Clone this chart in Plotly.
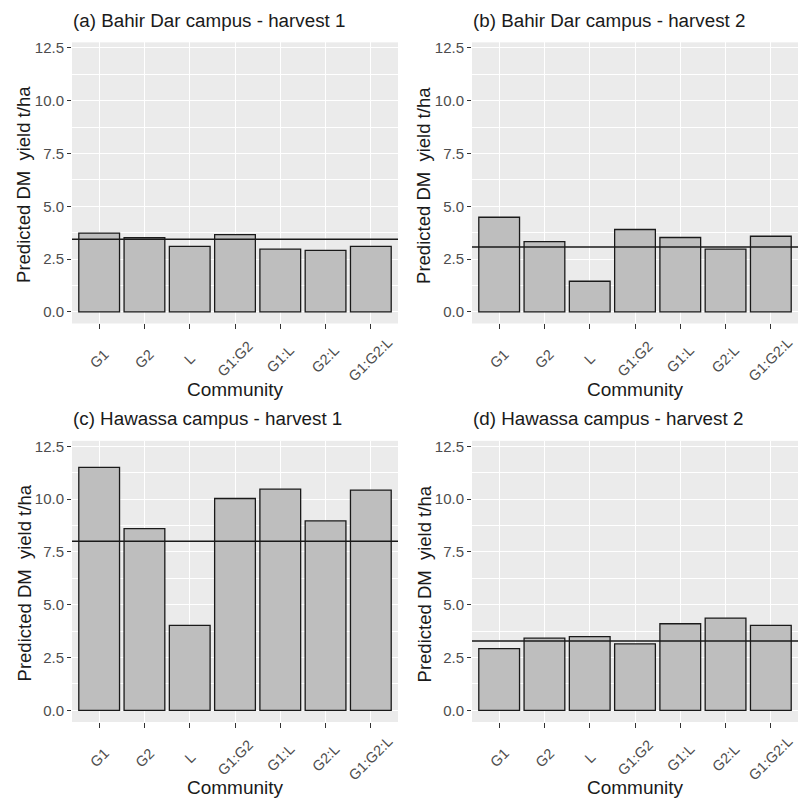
import plotly.graph_objects as go

categories = ["G1", "G2", "L", "G1:G2", "G1:L", "G2:L", "G1:G2:L"]
titles = ["(a) Bahir Dar campus - harvest 1", "(b) Bahir Dar campus - harvest 2",
          "(c) Hawassa campus - harvest 1", "(d) Hawassa campus - harvest 2"]
yield_a = [3.73, 3.51, 3.10, 3.66, 2.97, 2.91, 3.10]
yield_b = [4.48, 3.33, 1.45, 3.90, 3.52, 2.97, 3.58]
yield_c = [11.50, 8.60, 4.02, 10.03, 10.47, 8.97, 10.43]
yield_d = [2.92, 3.42, 3.49, 3.15, 4.10, 4.37, 4.02]
mean_lines = [3.44, 3.07, 8.01, 3.28]
y_ticks = [0, 2.5, 5.0, 7.5, 10.0, 12.5]
y_ticklabels = ["0.0", "2.5", "5.0", "7.5", "10.0", "12.5"]

series = [yield_a, yield_b, yield_c, yield_d]

W, H = 801, 800
FONT = "Liberation Sans, Arial, sans-serif"

# panel geometry in pixels: (left, right, top, bottom)
panels = [
    (72, 398, 39.5, 321.7),
    (472, 798, 39.5, 321.7),
    (72, 398, 439.5, 721.7),
    (472, 798, 439.5, 721.7),
]

fig = go.Figure()
layout = dict(
    width=W, height=H,
    margin=dict(l=0, r=0, t=0, b=0),
    paper_bgcolor="white",
    plot_bgcolor="#EBEBEB",
    showlegend=False,
    font=dict(family=FONT),
)
annotations = []
shapes = []

for i, (vals, (l, r, t, b)) in enumerate(zip(series, panels)):
    n = i + 1
    xa = "x" if n == 1 else f"x{n}"
    ya = "y" if n == 1 else f"y{n}"
    xkey = "xaxis" if n == 1 else f"xaxis{n}"
    ykey = "yaxis" if n == 1 else f"yaxis{n}"
    xpos = list(range(1, len(categories) + 1))
    fig.add_trace(go.Bar(
        x=xpos, y=vals, width=0.9,
        marker=dict(color="#BEBEBE", line=dict(color="#1A1A1A", width=1.3)),
        xaxis=xa, yaxis=ya, hoverinfo="skip",
    ))
    layout[xkey] = dict(
        domain=[l / W, r / W], anchor=ya,
        range=[0.4, 7.6], tickmode="array", tickvals=xpos, ticktext=[""] * len(xpos),
        showgrid=True, gridcolor="white", gridwidth=1.1,
        ticks="outside", ticklen=5, tickcolor="#333333", tickwidth=1,
        zeroline=False, showline=False,
    )
    layout[ykey] = dict(
        domain=[1 - b / H, 1 - t / H], anchor=xa,
        range=[-0.55, 12.76], tickmode="array", tickvals=y_ticks, ticktext=y_ticklabels,
        showgrid=True, gridcolor="white", gridwidth=1.1,
        minor=dict(tickmode="array", tickvals=[1.25, 3.75, 6.25, 8.75, 11.25],
                   showgrid=True, gridcolor="white", gridwidth=0.5, ticks=""),
        ticks="outside", ticklen=4, tickcolor="#333333", tickwidth=1,
        tickfont=dict(size=15, color="#4D4D4D", family=FONT),
        zeroline=False, showline=False,
    )
    # mean line
    shapes.append(dict(type="line", xref=f"{xa} domain", yref=ya, x0=0, x1=1,
                       y0=mean_lines[i], y1=mean_lines[i],
                       line=dict(color="#1A1A1A", width=1.5)))
    # title
    annotations.append(dict(text=titles[i], xref="paper", yref="paper",
                            x=(l - 1) / W, y=1 - (t - 22) / H, xanchor="left", yanchor="middle",
                            showarrow=False, font=dict(size=18.8, color="#1A1A1A", family=FONT)))
    # y axis title
    annotations.append(dict(text="Predicted DM  yield t/ha", xref="paper", yref="paper",
                            x=(l - 48) / W, y=1 - ((t + b) / 2 + 2) / H, xanchor="center", yanchor="middle",
                            textangle=-90, showarrow=False,
                            font=dict(size=18.5, color="#1A1A1A", family=FONT)))
    # x tick labels (rotated, centered under ticks)
    for xp, cat in zip(xpos, categories):
        annotations.append(dict(text=cat, xref=xa, yref="paper", x=xp,
                                y=1 - (b + 36) / H, xanchor="center", yanchor="middle",
                                textangle=-45, showarrow=False,
                                font=dict(size=14.5, color="#4D4D4D", family=FONT)))
    # x axis title
    annotations.append(dict(text="Community", xref="paper", yref="paper",
                            x=(l + r) / 2 / W, y=1 - (b + 66) / H, xanchor="center", yanchor="middle",
                            showarrow=False, font=dict(size=19, color="#1A1A1A", family=FONT)))

layout["annotations"] = annotations
layout["shapes"] = shapes
fig.update_layout(**layout)
fig.write_html("out.html", config={"displayModeBar": False},
               post_script="document.body.style.margin='0';")
